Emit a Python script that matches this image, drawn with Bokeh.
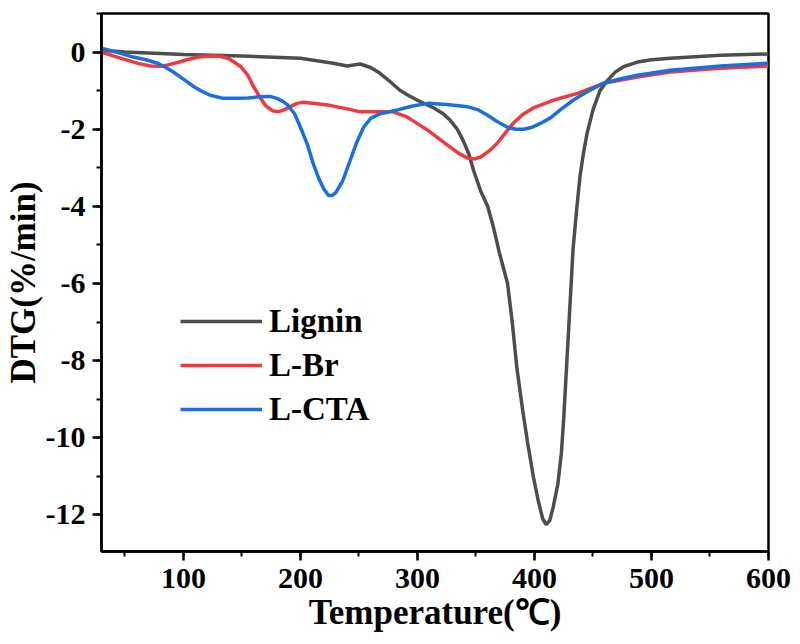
from bokeh.plotting import figure
from bokeh.models import Range1d, SingleIntervalTicker, Legend, LegendItem, CustomJSTickFormatter
from bokeh.embed import file_html
from bokeh.resources import INLINE

# ---- data ----
lignin_x = [30, 50, 100, 150, 200, 228, 240, 251, 260, 268, 276, 285, 292, 300, 314, 322, 328, 334,
            339, 344, 348, 354, 360, 365, 370, 377, 381, 385, 390, 394, 399, 403, 407, 410, 413, 416,
            420, 423, 425, 427, 429, 431, 433, 436, 439, 442, 445, 450, 456, 462, 469, 476, 488, 500,
            516, 559, 600]
lignin_y = [0.05, 0.0, -0.06, -0.1, -0.16, -0.29, -0.36, -0.31, -0.4, -0.55, -0.75, -0.99, -1.12,
            -1.25, -1.45, -1.6, -1.77, -2.0, -2.29, -2.65, -3.07, -3.6, -4.0, -4.55, -5.2, -6.0, -7.0,
            -8.2, -9.3, -10.1, -11.0, -11.6, -12.1, -12.25, -12.15, -11.8, -11.2, -10.4, -9.5, -8.4,
            -7.3, -6.2, -5.1, -4.1, -3.2, -2.6, -2.1, -1.5, -1.0, -0.75, -0.52, -0.38, -0.26, -0.2,
            -0.16, -0.08, -0.05]

lbr_x = [30, 40, 52, 62, 72, 80, 86, 95, 103, 113, 123, 131, 138, 143, 149, 155, 160, 165, 170, 176,
         181, 186, 191, 197, 203, 223, 241, 251, 279, 291, 309, 326, 335, 343, 349, 354, 361, 368, 375,
         382, 390, 399, 416, 437, 459, 488, 516, 559, 600]
lbr_y = [0.0, -0.1, -0.21, -0.3, -0.36, -0.37, -0.34, -0.27, -0.2, -0.13, -0.1, -0.11, -0.16, -0.25,
         -0.38, -0.6, -0.9, -1.15, -1.38, -1.52, -1.55, -1.5, -1.42, -1.33, -1.3, -1.37, -1.48, -1.55,
         -1.55, -1.68, -2.03, -2.42, -2.62, -2.75, -2.77, -2.72, -2.57, -2.37, -2.1, -1.84, -1.62,
         -1.45, -1.25, -1.07, -0.81, -0.65, -0.52, -0.42, -0.36]

lcta_x = [30, 45, 57, 68, 78, 85, 91, 100, 109, 116, 123, 134, 145, 155, 165, 174, 180, 185, 189, 195,
          200, 206, 211, 216, 220, 224, 227, 230, 236, 242, 248, 254, 260, 268, 283, 296, 309, 325,
          343, 352, 360, 368, 377, 384, 391, 398, 405, 414, 422, 433, 445, 459, 473, 488, 516, 559,
          600]
lcta_y = [0.1, -0.02, -0.13, -0.2, -0.29, -0.4, -0.51, -0.7, -0.9, -1.02, -1.12, -1.2, -1.2, -1.19,
          -1.16, -1.15, -1.2, -1.28, -1.37, -1.6, -1.95, -2.4, -2.9, -3.3, -3.55, -3.72, -3.72, -3.65,
          -3.35, -2.85, -2.35, -1.95, -1.72, -1.6, -1.5, -1.4, -1.33, -1.36, -1.42, -1.5, -1.64, -1.8,
          -1.95, -2.0, -2.0, -1.95, -1.85, -1.7, -1.5, -1.25, -1.03, -0.81, -0.7, -0.6, -0.47, -0.36,
          -0.29]

series_names = ["Lignin", "L-Br", "L-CTA"]
series_colors = ["#4d4d4d", "#f0393d", "#1a6fe0"]

FONT = "Liberation Serif"

p = figure(width=792, height=636, output_backend="svg", toolbar_location=None,
           x_range=Range1d(30, 600), y_range=Range1d(-12.95, 1.0),
           min_border_left=93, min_border_right=24, min_border_top=13, min_border_bottom=85)

p.grid.visible = False
p.outline_line_color = "black"
p.outline_line_width = 2.5
p.outline_line_alpha = 1.0

r1 = p.line(lignin_x, lignin_y, line_color=series_colors[0], line_width=3.5)
r2 = p.line(lbr_x, lbr_y, line_color=series_colors[1], line_width=3.5)
r3 = p.line(lcta_x, lcta_y, line_color=series_colors[2], line_width=3.5)

p.xaxis.ticker = SingleIntervalTicker(interval=100, num_minor_ticks=2)
p.yaxis.ticker = SingleIntervalTicker(interval=2, num_minor_ticks=2)
p.xaxis.formatter = CustomJSTickFormatter(code="return String(Math.round(tick));")
p.yaxis.formatter = CustomJSTickFormatter(code="return String(Math.round(tick));")

for ax in (p.xaxis[0], p.yaxis[0]):
    ax.axis_line_width = 2.5
    ax.axis_line_color = "black"
    ax.major_tick_line_width = 2.5
    ax.minor_tick_line_width = 2
    ax.major_tick_in = 0
    ax.major_tick_out = 9
    ax.minor_tick_in = 0
    ax.minor_tick_out = 5
    ax.major_label_text_font = FONT
    ax.major_label_text_font_style = "bold"
    ax.major_label_text_font_size = "30px"
    ax.major_label_text_color = "black"
    ax.axis_label_text_font = FONT
    ax.axis_label_text_font_style = "bold"
    ax.axis_label_text_font_size = "35px"
    ax.axis_label_text_color = "black"

p.xaxis.major_label_standoff = 8
p.yaxis.major_label_standoff = 7
p.xaxis.axis_label = "Temperature(℃)"
p.yaxis.axis_label = "DTG(%/min)"
p.xaxis.axis_label_standoff = 2
p.yaxis.axis_label_standoff = 0

legend = Legend(items=[LegendItem(label=series_names[0], renderers=[r1]),
                       LegendItem(label=series_names[1], renderers=[r2]),
                       LegendItem(label=series_names[2], renderers=[r3])],
                location=(79, 122))
legend.border_line_color = None
legend.background_fill_alpha = 0
legend.label_text_font = FONT
legend.label_text_font_style = "bold"
legend.label_text_font_size = "33px"
legend.label_text_color = "black"
legend.glyph_width = 82
legend.glyph_height = 40
legend.label_height = 40
legend.spacing = 4
legend.padding = 4
legend.margin = 0
legend.label_standoff = 7
p.add_layout(legend)

open("out.html", "w").write(file_html(p, INLINE))
